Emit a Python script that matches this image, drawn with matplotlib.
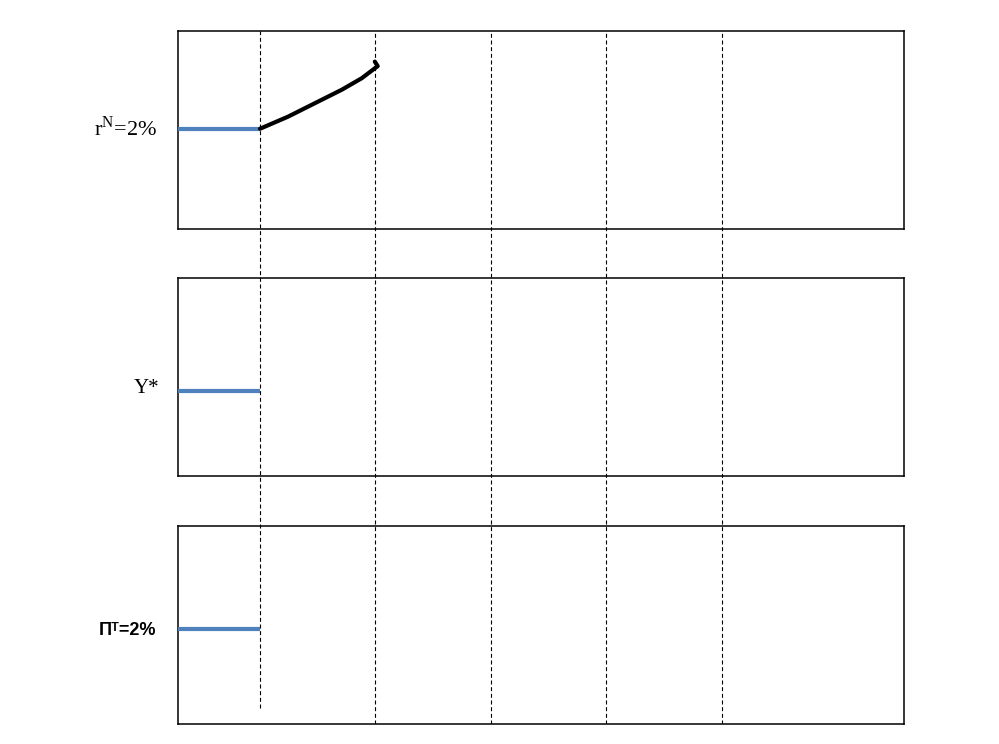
import matplotlib
matplotlib.use("Agg")
import matplotlib.pyplot as plt

plt.rcParams["mathtext.fontset"] = "custom"
plt.rcParams["mathtext.rm"] = "Liberation Serif"

# period boundaries (shock timing), in periods from t=0
periods = [0, 1, 2, 3, 4]
x_range = (-0.71, 5.58)

# steady-state levels drawn before the shock
r_natural = 2.0
y_potential = 1.0
pi_target = 2.0

# sketched path of the real rate after the shock
r_path_t = [0.0, 0.242, 0.476, 0.71, 0.883, 1.02, 0.995]
r_path_v = [2.0, 2.24, 2.51, 2.78, 3.01, 3.25, 3.34]

BLUE = "#4F81BD"

fig = plt.figure(figsize=(9.99, 7.44), dpi=100)

boxes = [
    (0.1782, 0.6922, 0.7267, 0.2661),
    (0.1782, 0.3602, 0.7267, 0.2661),
    (0.1782, 0.0269, 0.7267, 0.2661),
]
ylims = [(0.0, 3.95), (0.0, 2.33), (0.0, 4.17)]
levels = [r_natural, y_potential, pi_target]

axes = []
for rect, ylim, lvl in zip(boxes, ylims, levels):
    ax = fig.add_axes(rect)
    ax.set_xlim(*x_range)
    ax.set_ylim(*ylim)
    ax.set_xticks([])
    ax.set_yticks([])
    for s in ax.spines.values():
        s.set_linewidth(1.1)
    ax.plot([x_range[0], periods[0]], [lvl, lvl], color=BLUE, lw=3,
            solid_capstyle="butt", zorder=3)
    axes.append(ax)

axes[0].plot(r_path_t, r_path_v, color="black", lw=3, solid_capstyle="round",
             solid_joinstyle="round", zorder=4)

# dashed period markers spanning all three panels
over = fig.add_axes((0.1782, 0.0269, 0.7267, 0.9315))
over.set_xlim(*x_range)
over.set_ylim(0, 1)
over.axis("off")
for i, t in enumerate(periods):
    ymin = 0.023 if i == 0 else 0.0
    over.axvline(t, ymin=ymin, ymax=1.0, color="black", lw=0.8,
                 linestyle=(0, (3.6, 2.4)))

serif = ["Liberation Serif", "DejaVu Serif"]
fig.text(0.157, 1 - 136 / 744, r"r$^{\mathrm{N}}$=2%", ha="right", va="baseline",
         fontsize=16, family=serif)
fig.text(0.160, 1 - 393 / 744, "Y*", ha="right", va="baseline",
         fontsize=15, family=serif)
fig.text(0.156, 1 - 635 / 744, "\u03a0\u1d40=2%", ha="right", va="baseline",
         fontsize=13, fontweight="bold", family=["Liberation Sans", "DejaVu Sans"])

fig.savefig("out.png", dpi=100)
